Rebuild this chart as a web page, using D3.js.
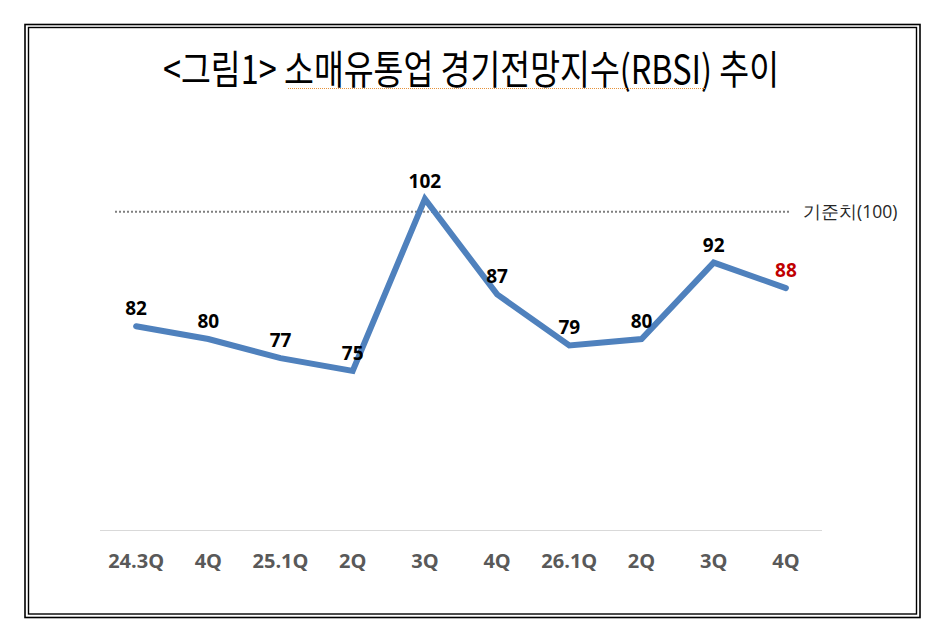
<!DOCTYPE html>
<html><head><meta charset="utf-8">
<script src="https://cdn.jsdelivr.net/npm/d3@7"></script>
<style>body{margin:0;background:#fff;} svg{display:block;}</style>
</head><body>
<script>
const categories = ["24.3Q","4Q","25.1Q","2Q","3Q","4Q","26.1Q","2Q","3Q","4Q"];
const values = [82,80,77,75,102,87,79,80,92,88];
const baseline = 100;
const baselineLabel = "기준치(100)";
const title = "<그림1> 소매유통업 경기전망지수(RBSI) 추이";

(function(){
const W = 942, H = 636;
const svg = d3.select("body").append("svg").attr("width", W).attr("height", H);
svg.append("rect").attr("width", W).attr("height", H).attr("fill", "#fff");

// double frame
svg.append("rect").attr("x",25).attr("y",24.5).attr("width",895).attr("height",593)
  .attr("fill","none").attr("stroke","#000").attr("stroke-width",1.6);
svg.append("rect").attr("x",28.5).attr("y",27.5).attr("width",888).attr("height",586.5)
  .attr("fill","none").attr("stroke","#000").attr("stroke-width",1.4);

// title
svg.append("text").attr("x",163).attr("y",84)
  .attr("textLength",616).attr("lengthAdjust","spacingAndGlyphs")
  .attr("font-family","'Noto Sans CJK KR'").attr("font-size",40).attr("font-weight",400)
  .attr("fill","#000").text(title);
svg.append("line").attr("x1",288).attr("x2",706).attr("y1",88.5).attr("y2",88.5)
  .attr("stroke","#e69138").attr("stroke-width",1).attr("stroke-dasharray","1,1");

const pl = 100, pr = 822, pt = 148, pb = 530;
const x = d3.scaleBand().domain(d3.range(categories.length)).range([pl, pr]);
const y = d3.scaleLinear().domain([50, 110]).range([pb, pt]);

// bottom axis line
svg.append("line").attr("x1",pl).attr("x2",pr).attr("y1",pb+0.5).attr("y2",pb+0.5)
  .attr("stroke","#d9d9d9").attr("stroke-width",1);

// category labels
const xAxis = d3.axisBottom(x).tickSize(0).tickPadding(0).tickFormat(i => categories[i]);
const gx = svg.append("g").attr("transform",`translate(0,${pb})`).call(xAxis);
gx.select(".domain").remove();
gx.selectAll("text").attr("dy",0).attr("y",38)
  .attr("font-family","'Open Sans'").attr("font-weight",700).attr("font-size",20)
  .attr("fill","#595959");

// baseline dotted
svg.append("line").attr("x1",115).attr("x2",790).attr("y1",y(baseline)).attr("y2",y(baseline))
  .attr("stroke","#7f7f7f").attr("stroke-width",2).attr("stroke-dasharray","2,2");
svg.append("text").attr("x",803).attr("y",y(baseline)+6)
  .attr("font-family","'Open Sans'").attr("font-size",17.5).attr("fill","#262626").text(baselineLabel);

// line
const line = d3.line().x((d,i)=>x(i)+x.bandwidth()/2).y(d=>y(d));
svg.append("path").datum(values).attr("d",line)
  .attr("fill","none").attr("stroke","#4f81bd").attr("stroke-width",6)
  .attr("stroke-linejoin","miter").attr("stroke-linecap","round");

// labels
svg.selectAll(".lbl").data(values).enter().append("text")
  .attr("x",(d,i)=>x(i)+x.bandwidth()/2)
  .attr("y",d=>y(d)-11)
  .attr("text-anchor","middle")
  .attr("font-family","'Open Sans'").attr("font-weight",700).attr("font-size",19)
  .attr("fill",(d,i)=> i===values.length-1 ? "#c00000" : "#000")
  .text(d=>d);
})();
</script>
</body></html>
